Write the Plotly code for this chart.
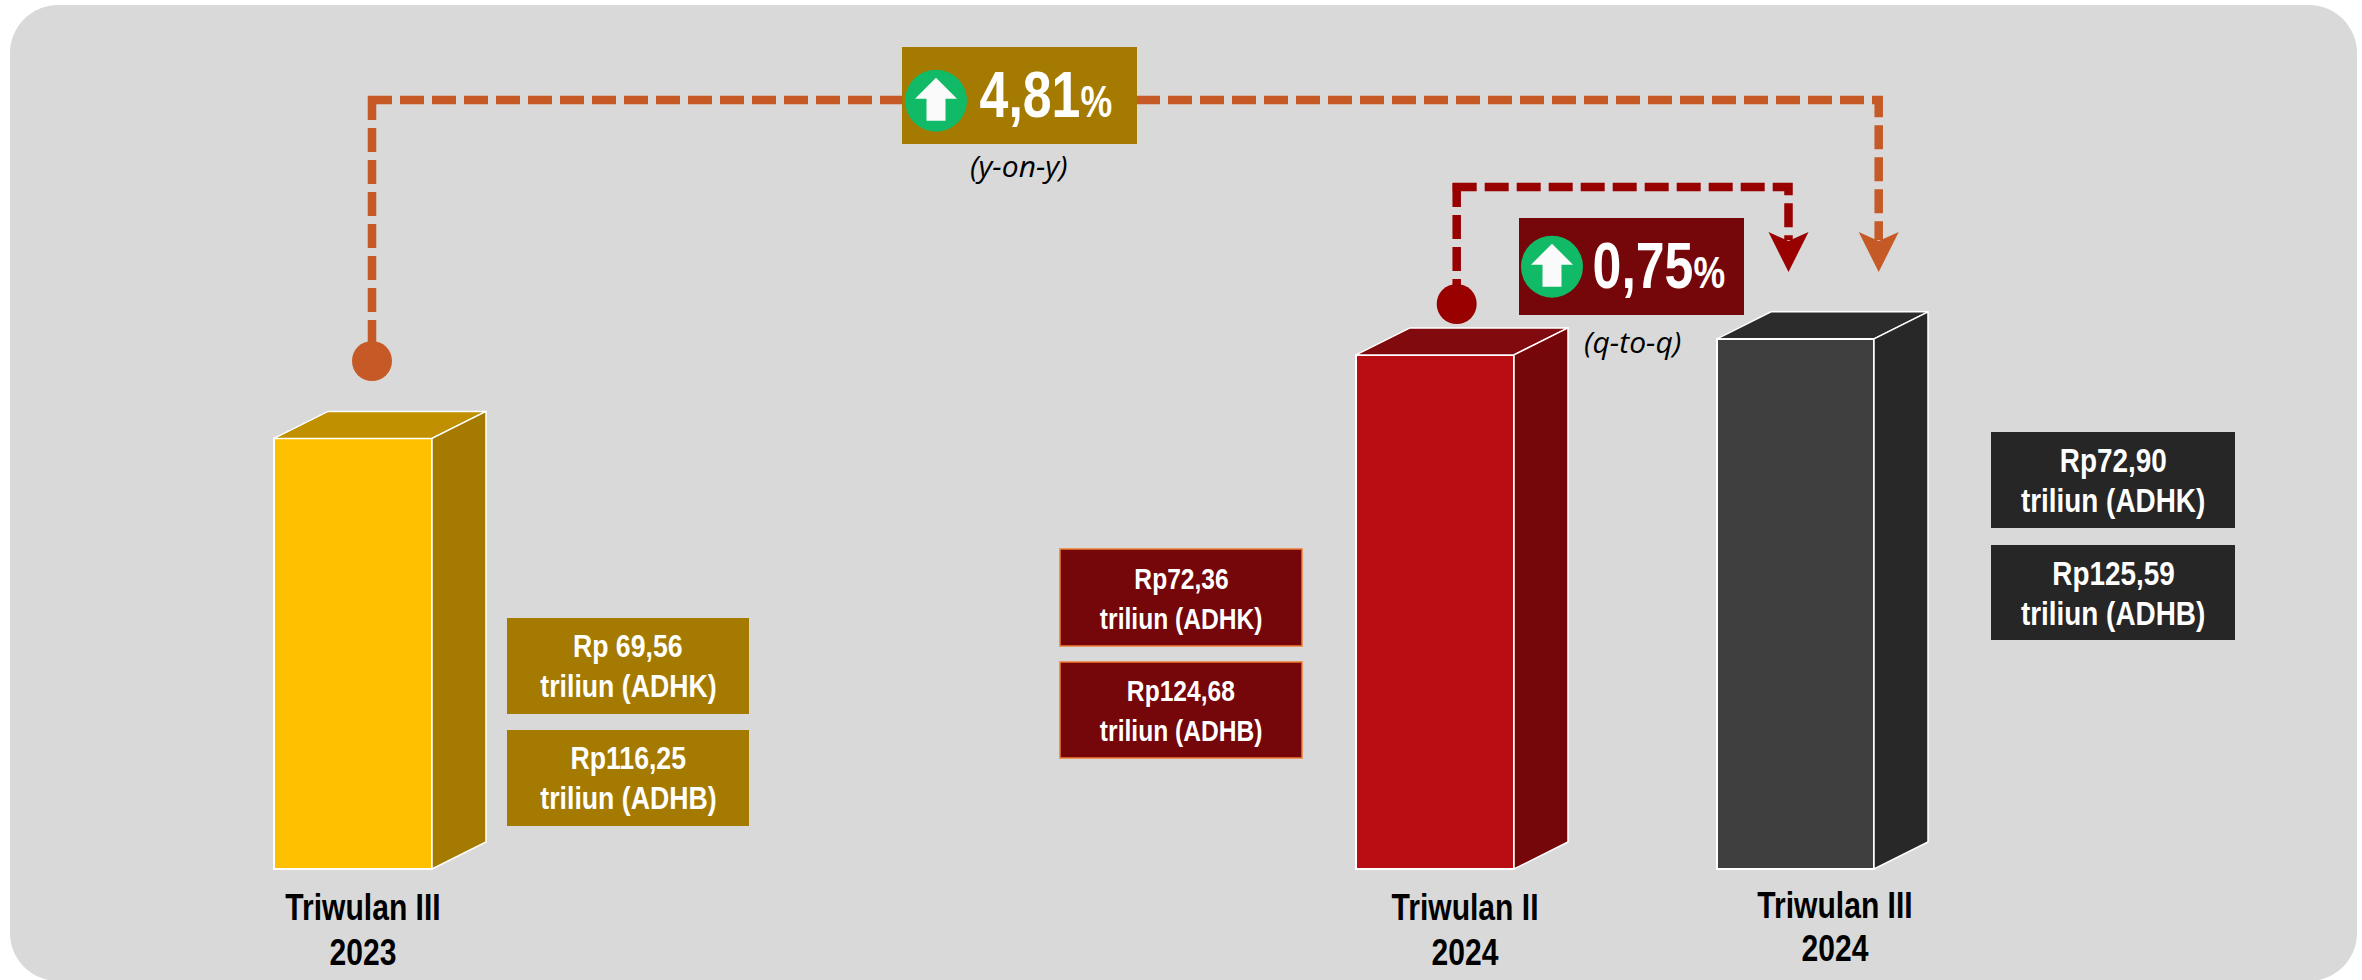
import json
import plotly.graph_objects as go

# ---------- data ----------
periods = ["Triwulan III", "Triwulan II", "Triwulan III"]
years = ["2023", "2024", "2024"]
adhk_values = [69.56, 72.36, 72.90]
adhb_values = [116.25, 124.68, 125.59]
adhk_labels = ["Rp 69,56", "Rp72,36", "Rp72,90"]
adhb_labels = ["Rp116,25", "Rp124,68", "Rp125,59"]
growth_labels = ["4,81", "0,75"]
growth_kinds = ["(y-on-y)", "(q-to-q)"]

# ---------- layout constants (pixels of the 2362x980 page) ----------
W, H = 2362, 980
PX_PER_UNIT = 29.8
BASE_VALUE = 55.11
BASE_PX = 869
val_top = BASE_VALUE + BASE_PX / PX_PER_UNIT
val_bottom = BASE_VALUE - (H - BASE_PX) / PX_PER_UNIT

BAR_LEFT = [274, 1356, 1717]
BAR_WIDTH = [158, 158, 157]
DEPTH_X, DEPTH_Y = 54, 1.0 * 27 / PX_PER_UNIT

FRONT = ["#FFC000", "#B70D13", "#3F3F3F"]
SIDE = ["#A47B00", "#750609", "#282828"]
TOP = ["#C09000", "#800A0D", "#2C2C2C"]
BOX = ["#A47B00", "#750609", "#262626"]
BOX_LINE = [None, "#ED7D31", None]
GREY = "#D9D9D9"
ORANGE = "#C55A26"
DARKRED = "#990000"
GREEN = "#10BA66"
ICON = "#FAFAFA"
SANS = "Liberation Sans"

fig = go.Figure()
shapes = []
annotations = []
condense = []


def text(x, y, s, size, color="#FFFFFF", family=SANS, weight="bold", squeeze=1.0):
    annotations.append(dict(x=x, y=y, xref="x", yref="y2", text=s, showarrow=False,
                            xanchor="center", yanchor="middle",
                            font=dict(size=size, color=color, family=family, weight=weight)))
    condense.append(squeeze)


def rect(x0, y0, x1, y1, fill, line=None, lw=1.5):
    shapes.append(dict(type="rect", x0=x0, x1=x1, y0=y0, y1=y1, xref="x", yref="y2",
                       fillcolor=fill, layer="above",
                       line=dict(color=line, width=lw) if line else dict(width=0)))


def poly(points, fill):
    d = "M " + " L ".join(f"{px},{py}" for px, py in points) + " Z"
    shapes.append(dict(type="path", path=d, xref="x", yref="y2", fillcolor=fill,
                       layer="above", line=dict(width=0)))


# background panel
R = 48
K = R * 0.45
L, T, RGT, BOT = 10, 5, 2357, 981
shapes.append(dict(type="path", xref="x", yref="y2", layer="below", fillcolor=GREY,
                   line=dict(width=0),
                   path=f"M {L+R},{T} L {RGT-R},{T} C {RGT-K},{T} {RGT},{T+K} {RGT},{T+R} "
                        f"L {RGT},{BOT-R} C {RGT},{BOT-K} {RGT-K},{BOT} {RGT-R},{BOT} "
                        f"L {L+R},{BOT} C {L+K},{BOT} {L},{BOT-K} {L},{BOT-R} "
                        f"L {L},{T+R} C {L},{T+K} {L+K},{T} {L+R},{T} Z"))

# 3D bars: front face is a real bar trace, top and side derive from the value
for i, v in enumerate(adhk_values):
    x0 = BAR_LEFT[i]
    x1 = x0 + BAR_WIDTH[i]
    fig.add_trace(go.Scatter(
        x=[x0, x0 + DEPTH_X, x1 + DEPTH_X, x1, x0], y=[v, v + DEPTH_Y, v + DEPTH_Y, v, v],
        mode="lines", fill="toself", fillcolor=TOP[i], line=dict(color="#FFFFFF", width=1.5),
        hoverinfo="skip", showlegend=False))
    fig.add_trace(go.Scatter(
        x=[x1, x1 + DEPTH_X, x1 + DEPTH_X, x1, x1],
        y=[v, v + DEPTH_Y, BASE_VALUE + DEPTH_Y, BASE_VALUE, v],
        mode="lines", fill="toself", fillcolor=SIDE[i], line=dict(color="#FFFFFF", width=1.5),
        hoverinfo="skip", showlegend=False))
    fig.add_trace(go.Bar(
        x=[x0 + BAR_WIDTH[i] / 2], y=[v - BASE_VALUE], base=[BASE_VALUE], width=[BAR_WIDTH[i]],
        marker=dict(color=FRONT[i], line=dict(color="#FFFFFF", width=2)),
        hoverinfo="skip", showlegend=False))

# value boxes
BOX_X = [(507, 749), (1060, 1302), (1991, 2235)]
BOX_Y1 = [(618, 714), (549, 646), (432, 528)]
BOX_Y2 = [(730, 826), (662, 758), (545, 640)]
LBL_SIZE = [31, 30, 33]
LBL_SQUEEZE = [0.86, 0.82, 0.845]
for i in range(3):
    x0, x1 = BOX_X[i]
    cx = (x0 + x1) / 2
    for (y0, y1), first, unit in ((BOX_Y1[i], adhk_labels[i], "triliun (ADHK)"),
                                  (BOX_Y2[i], adhb_labels[i], "triliun (ADHB)")):
        rect(x0, y0, x1, y1, BOX[i], BOX_LINE[i])
        cy = (y0 + y1) / 2
        text(cx, cy - 19.5, first, LBL_SIZE[i], squeeze=LBL_SQUEEZE[i])
        text(cx, cy + 20.5, unit, LBL_SIZE[i], squeeze=LBL_SQUEEZE[i])

# period labels
LABEL_X = [363, 1465, 1835]
LABEL_Y = [(907, 952), (907, 952), (905, 948)]
for i in range(3):
    text(LABEL_X[i], LABEL_Y[i][0], periods[i], 36, "#000000", squeeze=0.835)
    text(LABEL_X[i], LABEL_Y[i][1], years[i], 36, "#000000", squeeze=0.835)

# dashed connectors
DASH = "24px,8px"
LINE_W = 8.5
connectors = [
    (372, 100, 361, 1878.7, ORANGE),
    (1456.7, 187, 304, 1788.5, DARKRED),
]
for x0, ytop, ydot, x1, col in connectors:
    fig.add_trace(go.Scatter(x=[x0, x0], y=[ytop - 4, ydot], yaxis="y2", mode="lines",
                             line=dict(color=col, width=LINE_W, dash=DASH),
                             hoverinfo="skip", showlegend=False))
    fig.add_trace(go.Scatter(x=[x0 - 4, x1, x1], y=[ytop, ytop, 240], yaxis="y2", mode="lines",
                             line=dict(color=col, width=LINE_W, dash=DASH),
                             hoverinfo="skip", showlegend=False))
    fig.add_trace(go.Scatter(x=[x0], y=[ydot], yaxis="y2", mode="markers",
                             marker=dict(color=col, size=40, line=dict(width=0)),
                             hoverinfo="skip", showlegend=False))
    poly([(x1 - 20, 232), (x1, 272), (x1 + 20, 232), (x1, 241)], col)

# growth badges
BADGES = [
    dict(box=(902, 47, 1137, 144), fill=BOX[0], icon=(936, 100.7), text_x=1046, kind=(1019, 165)),
    dict(box=(1519, 218, 1744, 315), fill=BOX[1], icon=(1552, 266.7), text_x=1659, kind=(1632, 341)),
]
for b, g, k in zip(BADGES, growth_labels, growth_kinds):
    x0, y0, x1, y1 = b["box"]
    rect(x0, y0, x1, y1, b["fill"])
    ix, iy = b["icon"]
    shapes.append(dict(type="circle", xref="x", yref="y2", x0=ix - 31, x1=ix + 31,
                       y0=iy - 31, y1=iy + 31, fillcolor=GREEN, layer="above", line=dict(width=0)))
    poly([(ix, iy - 23), (ix + 21, iy - 2), (ix + 9.5, iy - 2), (ix + 9.5, iy + 20),
          (ix - 9.5, iy + 20), (ix - 9.5, iy - 2), (ix - 21, iy - 2)], ICON)
    text(b["text_x"], (y0 + y1) / 2 - 1,
         f'{g}<span style="font-size:44px">%</span>', 64, squeeze=0.81)
    text(b["kind"][0], b["kind"][1], f"<i>{k}</i>", 30, "#000000", "Open Sans", "normal")

fig.update_layout(
    width=W, height=H, margin=dict(l=0, r=0, t=0, b=0),
    paper_bgcolor="#FFFFFF", plot_bgcolor="rgba(0,0,0,0)", showlegend=False, bargap=0,
    xaxis=dict(range=[0, W], visible=False, fixedrange=True),
    yaxis=dict(range=[val_bottom, val_top], visible=False, fixedrange=True),
    yaxis2=dict(range=[H, 0], visible=False, overlaying="y", fixedrange=True),
    shapes=shapes, annotations=annotations,
)

post = """
document.body.style.margin = '0';
document.documentElement.style.overflow = 'hidden';
var squeeze = %s;
document.querySelectorAll('.annotation-text').forEach(function (t, i) {
  var f = squeeze[i];
  if (f && f !== 1) {
    var b = t.getBBox();
    var cx = b.x + b.width / 2;
    t.setAttribute('transform', 'translate(' + cx + ',0) scale(' + f + ',1) translate(' + (-cx) + ',0)');
  }
});
""" % json.dumps(condense)
fig.write_html("out.html", config=dict(displayModeBar=False), post_script=post)
